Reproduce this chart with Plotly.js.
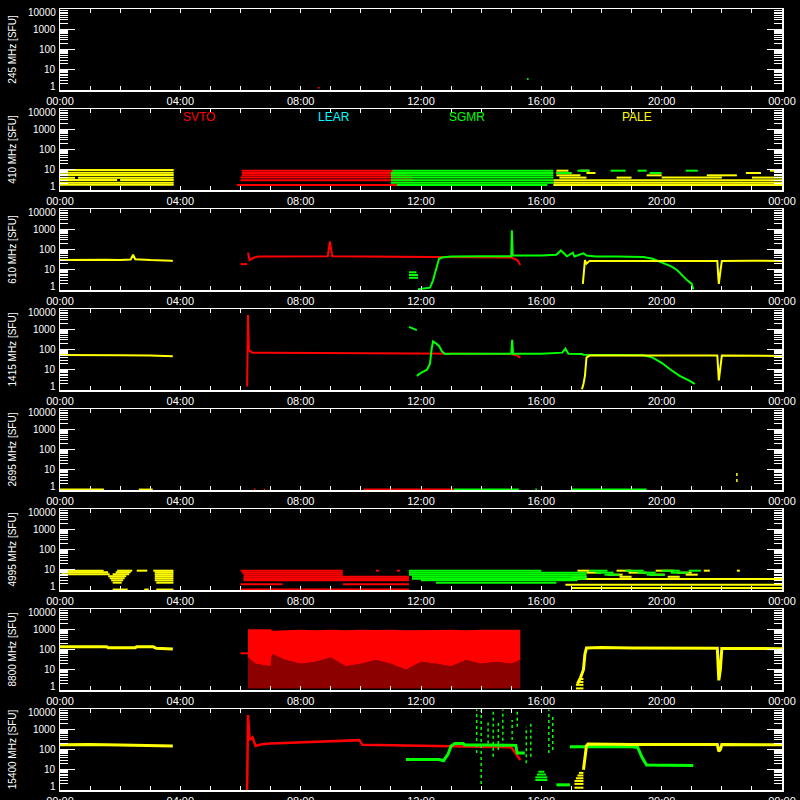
<!DOCTYPE html>
<html><head><meta charset="utf-8">
<script src="https://cdn.plot.ly/plotly-3.0.1.min.js"></script>
<style>html,body{margin:0;padding:0;background:#000}#c{width:800px;height:800px}</style>
</head><body><div id="c"></div>
<script>
// ---------- labels ----------
const hourTicks = [0,4,8,12,16,20,24];
const hourText = ['00:00','04:00','08:00','12:00','16:00','20:00','00:00'];
const fluxTicks = [1,10,100,1000,10000];
const fluxText = ['1','10','100','1000','10000'];
const freqTitles = ['245 MHz [SFU]','410 MHz [SFU]','610 MHz [SFU]','1415 MHz [SFU]','2695 MHz [SFU]','4995 MHz [SFU]','8800 MHz [SFU]','15400 MHz [SFU]'];
const stationNames = ['SVTO','LEAR','SGMR','PALE'];
const stationHours = [4.62, 9.1, 13.53, 19.18];
const RED='#ff0000', GRN='#00ff00', YEL='#ffff00', CYA='#00ffff';

// ---------- 245 MHz ----------
const f245_red_t = [8.6]; const f245_red_v = [1.3];
const f245_grn_t = [15.55]; const f245_grn_v = [3.5];

// ---------- 410 MHz (quantised stripes) ----------
const f410_pale1_lvl = [1.8, 2.3, 3.1, 4.0, 5.5, 7.1, 9.7];
const f410_pale1_seg = [[0,3.78],[0,3.78],[0,1.9,2.0,3.78],[0,0.5,0.6,3.78],[0,3.78],[0,3.78],[0,3.78]];
const f410_svto_lvl = [1.76, 3.0, 4.1, 5.3, 6.9, 9.0];
const f410_svto_seg = [[5.88,11.75],[6.0,11.75],[6.0,11.7],[6.04,11.5],[6.04,11.3],[6.04,11.1]];
const f410_sgmr_lvl = [1.76, 2.3, 3.0, 4.1, 5.3, 6.9, 9.0];
const f410_sgmr_seg = [[11.2,16.2],[11.0,16.4],[11.0,16.4],[11.0,16.4],[11.0,16.4],[11.0,16.4,16.5,17.0,19.6,20.0],[11.05,16.4,17.2,17.6,18.3,18.8,19.2,19.5,20.8,21.2]];
const f410_pale2_lvl = [1.76, 2.3, 3.0, 4.1, 5.3, 6.9, 9.0];
const f410_pale2_seg = [[16.4,24],[16.4,24],[16.4,24],[16.6,17.5,18.5,19.0,20.0,22.0,23.0,24],[16.5,17.3,19.5,20.0,21.5,22.5],[16.5,17.0,17.5,17.8,22.8,23.3],[16.5,16.9,17.3,17.6,23.6,23.8]];

// ---------- 610 MHz ----------
const f610_pale1_t = [0, 0.5, 1.0, 1.5, 2.0, 2.35, 2.43, 2.5, 3.0, 3.5, 3.7, 3.75];
const f610_pale1_v = [30, 31, 30, 31, 30, 32, 55, 33, 30, 30, 28, 27];
const f610_svto_t = [6.0, 6.22, null, 6.25, 6.3, 6.45, 6.6, 7, 8, 8.9, 8.97, 9.05, 10, 11, 12, 12.6, 13.5, 14.5, 15.0, 15.2, 15.3];
const f610_svto_v = [19, 19, null, 70, 30, 40, 45, 45, 46, 46, 250, 46, 45, 44, 44, 45, 44, 42, 40, 30, 17];
const f610_sgmr_t = [11.6, 11.9, null, 11.9, 12.3, 12.4, 12.5, 12.6, 12.7, 13, 14, 15.0, 15.02, 15.05, 15.5, 16, 16.5, 16.65, 16.85, 17.05, 17.1, 17.4, 17.5, 17.8, 18.5, 19, 19.4, 19.7, 20.05, 20.3, 20.5, 20.7, 20.85, 21.0, 21.05];
const f610_sgmr_v = [5.5, 5.5, null, 1.1, 1.3, 3, 12, 35, 40, 45, 46, 46, 900, 50, 50, 50, 55, 90, 46, 70, 45, 65, 50, 45, 45, 45, 43, 35, 22, 15, 10, 5, 3, 2, 1.1];
const f610_sgmr_lvl = [4.0, 7.5];
const f610_sgmr_seg = [[11.6,11.9],[11.6,11.85]];
const f610_pale2_t = [17.38, 17.42, 17.45, 17.5, 17.6, 18, 19, 20, 21, 21.85, 21.88, 21.9, 21.95, 22, 23, 24];
const f610_pale2_v = [2, 10, 30, 20, 27, 27, 27, 27, 27, 27, 5, 2, 8, 27, 28, 27];

// ---------- 1415 MHz ----------
const f1415_pale1_t = [0, 1, 2, 3, 3.5, 3.75];
const f1415_pale1_v = [53, 54, 52, 50, 48, 46];
const f1415_svto_t = [6.22, 6.25, 6.28, 6.4, 7, 8, 9, 10, 11, 12, 13, 14, 15, 15.2, 15.3];
const f1415_svto_v = [1.5, 5000, 90, 70, 70, 68, 66, 66, 65, 64, 62, 62, 60, 50, 40];
const f1415_sgmr_t = [11.6, 11.86, null, 11.86, 12.0, 12.2, 12.3, 12.35, 12.4, 12.5, 12.6, 12.7, 12.8, 13, 14, 15, 15.03, 15.06, 15.5, 16, 16.7, 16.8, 16.9, 17.0, 17.35, 17.4, 17.6, 18, 19, 19.4, 19.7, 20, 20.3, 20.6, 20.9, 21.1];
const f1415_sgmr_v = [1300, 900, null, 5, 7, 10, 20, 100, 250, 200, 150, 80, 60, 62, 62, 62, 300, 62, 62, 62, 70, 110, 62, 62, 60, 55, 55, 55, 55, 52, 40, 22, 10, 5, 3, 2];
const f1415_pale2_t = [17.35, 17.4, 17.45, 17.5, 17.6, 18, 20, 21.85, 21.9, 21.95, 22, 24];
const f1415_pale2_v = [1.1, 2, 5, 40, 50, 50, 50, 50, 3, 10, 50, 48];

// ---------- 2695 MHz ----------
const f2695_lvl = [1.05];
const f2695_pale_seg = [[0,1.46,2.62,3.08]];
const f2695_svto_seg = [[6.45,6.5,6.77,6.82,10.09,13.09]];
const f2695_sgmr_seg = [[13.09,15.25,15.8,15.85,17.0,19.5]];
const f2695_spk_t = [22.5]; const f2695_spk_lo = [2.5]; const f2695_spk_hi = [9.7];

// ---------- 4995 MHz (quantised stripes) ----------
const f4995_pale1_lvl = [1.05, 2.3, 3.0, 3.8, 4.8, 6.0, 7.5, 9.0];
const f4995_pale1_seg = [[1.75,2.25,2.8,2.95,3.2,3.77],[1.75,2.05,3.2,3.77],[1.7,2.1,3.15,3.77],[1.65,2.15,3.15,3.77],[1.6,2.2,3.15,3.77],[0.05,1.65,1.75,2.3,3.15,3.77],[0,1.6,1.85,2.35,3.15,3.77],[0,1.45,1.9,2.4,2.55,2.9,3.1,3.77]];
const f4995_svto_lvl = [1.05, 1.9, 3.0, 3.6, 4.5, 5.7, 7.2, 9.0];
const f4995_svto_seg = [[6.0,11.6],[6.0,7.4,9.4,11.6],[6.1,11.6],[6.1,11.6],[6.1,11.6],[6.1,9.4],[6.05,9.4],[6.0,9.4,10.5,10.6,11.2,11.3]];
const f4995_sgmr_lvl = [2.3, 3.0, 3.6, 4.5, 5.7, 7.2, 9.0];
const f4995_sgmr_seg = [[12.5,16.5],[12.0,17.2],[11.7,17.5],[11.7,17.5],[11.6,17.5,18.1,18.6,19.5,20.1],[11.6,17.5,17.8,18.4,19.2,19.8,20.3,20.9],[11.6,16.0,17.6,18.2,18.8,19.4,20.0,20.6,20.9,21.3]];
const f4995_pale2_lvl = [1.25, 1.8, 3.5, 4.5, 5.7, 7.2, 9.0];
const f4995_pale2_seg = [[17.0,24],[16.8,24],[16.5,24],[17.0,17.5,18.6,19.0,20.2,20.6],[18.2,18.7,19.6,20.1,20.8,21.2],[17.5,18.0,18.9,19.5,20.5,21.0],[17.2,17.6,18.5,19.0,19.8,20.4,21.4,21.6,22.5,22.6]];

// ---------- 8800 MHz ----------
const f8800_pale1_t = [0, 1.55, 1.6, 2.5, 2.55, 3.1, 3.2, 3.75];
const f8800_pale1_v = [138, 136, 122, 122, 138, 135, 115, 105];
const f8800_svto_pre_t = [6.0, 6.25];
const f8800_svto_pre_v = [65, 65];
const f8800_svto_t  = [6.25, 6.5, 7, 7.05, 7.5, 8, 8.5, 9, 9.5, 10, 10.5, 11, 11.5, 12, 12.5, 13, 13.5, 14, 14.5, 15, 15.3];
const f8800_svto_hi = [1000, 1000, 1000, 850, 900, 950, 900, 950, 900, 950, 920, 950, 900, 950, 930, 950, 900, 950, 930, 950, 950];
const f8800_svto_lo = [40, 20, 15, 60, 30, 20, 25, 40, 15, 20, 30, 20, 10, 25, 20, 15, 30, 20, 25, 20, 30];
const f8800_svto_floor = [1.2, 1.2, 1.2, 1.2, 1.2, 1.2, 1.2, 1.2, 1.2, 1.2, 1.2, 1.2, 1.2, 1.2, 1.2, 1.2, 1.2, 1.2, 1.2, 1.2, 1.2];
const f8800_pale2_t = [17.2, 17.3, 17.4, 17.45, 17.5, 18, 19, 20, 21, 21.85, 21.9, 21.95, 22, 23, 24];
const f8800_pale2_v = [2, 4, 10, 60, 120, 125, 120, 118, 115, 115, 3, 10, 112, 110, 110];
const f8800_pale2_lvl = [1.2, 1.8, 2.5, 3.5];
const f8800_pale2_seg = [[17.15,17.4],[17.15,17.4],[17.2,17.4],[17.25,17.4]];

// ---------- 15400 MHz ----------
const f15400_pale1_t = [0, 1, 2, 3, 3.5, 3.75];
const f15400_pale1_v = [170, 175, 165, 160, 155, 150];
const f15400_svto_t = [6.22, 6.25, 6.3, 6.4, 6.5, 6.7, 7, 8, 9, 9.8, 9.95, 10.05, 10.6, 11.7, 12, 13, 14, 15, 15.1, 15.2, 15.3];
const f15400_svto_v = [1, 5000, 300, 400, 150, 180, 200, 230, 260, 290, 290, 170, 166, 160, 150, 145, 140, 130, 80, 50, 30];
const f15400_sgmr_t = [11.5, 12.6, 12.75, 12.9, 13.0, 13.13, 13.4, 13.45, 14, 15, 15.15, 15.2, 15.45, null, 16.5, 16.95, null, 16.95, 17.5, 18, 19, 19.2, 19.35, 19.5, 20, 20.5, 21.05];
const f15400_sgmr_v = [32, 32, 28, 60, 150, 200, 200, 165, 165, 160, 160, 67, 67, null, 1.8, 1.8, null, 137, 140, 140, 137, 130, 40, 17, 17, 16, 16];
const f15400_spk_t  = [13.85, 14.0, 14.23, 14.4, 14.57, 14.72, 15.03, 15.2, 15.5, 15.65, 16.25, 16.38];
const f15400_spk_lo = [67, 2, 200, 44, 94, 137, 295, 1340, 21, 44, 67, 94];
const f15400_spk_hi = [9500, 9500, 2860, 9500, 2860, 9500, 2860, 9500, 1340, 2000, 9500, 5000];
const f15400_sgmr_lvl = [3.1, 4.2, 5.8, 8.0];
const f15400_sgmr_seg = [[15.8,16.2],[15.8,16.2],[15.85,16.15],[15.9,16.1]];
const f15400_pale2_t = [17.4, 17.45, 17.5, 17.55, 18, 19, 20, 21, 21.85, 21.9, 21.95, 22, 23, 24];
const f15400_pale2_v = [10, 40, 150, 185, 180, 175, 175, 175, 175, 80, 100, 175, 170, 170];
const f15400_pale2_lvl = [1.3, 2.0, 2.8, 3.8, 5.2, 7.0];
const f15400_pale2_seg = [[17.1,17.4],[17.1,17.4],[17.1,17.4],[17.15,17.4],[17.2,17.4],[17.25,17.4]];

// ---------- build ----------
const traces = [];
function ax(i){ return i ? String(i+1) : ''; }
function line(i, t, v, color, w){
  traces.push({x:t, y:v, xaxis:'x'+ax(i), yaxis:'y'+ax(i), mode:'lines', connectgaps:false,
    line:{color:color, width:w||2}, hoverinfo:'skip'});
}
function stripes(i, lvls, segs, color){
  const x=[], y=[];
  lvls.forEach((l,k)=>{ const s=segs[k]; for(let j=0;j<s.length;j+=2){ x.push(s[j], s[j+1], null); y.push(l, l, null);} });
  line(i, x, y, color, 2);
}
function spikes(i, t, lo, hi, color){
  const x=[], y=[];
  t.forEach((tt,k)=>{ x.push(tt, tt, null); y.push(lo[k], hi[k], null); });
  traces.push({x:x, y:y, xaxis:'x'+ax(i), yaxis:'y'+ax(i), mode:'lines', connectgaps:false,
    line:{color:color, width:1.5, dash:'dot'}, hoverinfo:'skip'});
}
function dots(i, t, v, color){
  traces.push({x:t, y:v, xaxis:'x'+ax(i), yaxis:'y'+ax(i), mode:'markers', marker:{color:color, size:2}, hoverinfo:'skip'});
}
function band(i, t, lo, hi, color){
  traces.push({x:t, y:lo, xaxis:'x'+ax(i), yaxis:'y'+ax(i), mode:'lines', line:{width:0, color:color}, hoverinfo:'skip'});
  traces.push({x:t, y:hi, xaxis:'x'+ax(i), yaxis:'y'+ax(i), mode:'lines', line:{width:0, color:color}, fill:'tonexty', fillcolor:color, hoverinfo:'skip'});
}

// 245
dots(0, f245_red_t, f245_red_v, RED); dots(0, f245_grn_t, f245_grn_v, GRN);
// 410
stripes(1, f410_pale1_lvl, f410_pale1_seg, YEL);
stripes(1, f410_svto_lvl, f410_svto_seg, RED);
stripes(1, f410_pale2_lvl, f410_pale2_seg, YEL);
stripes(1, f410_sgmr_lvl, f410_sgmr_seg, GRN);
// 610
line(2, f610_pale1_t, f610_pale1_v, YEL);
line(2, f610_svto_t, f610_svto_v, RED);
line(2, f610_sgmr_t, f610_sgmr_v, GRN);
stripes(2, f610_sgmr_lvl, f610_sgmr_seg, GRN);
line(2, f610_pale2_t, f610_pale2_v, YEL);
// 1415
line(3, f1415_pale1_t, f1415_pale1_v, YEL);
line(3, f1415_svto_t, f1415_svto_v, RED);
line(3, f1415_sgmr_t, f1415_sgmr_v, GRN);
line(3, f1415_pale2_t, f1415_pale2_v, YEL);
// 2695
stripes(4, f2695_lvl, f2695_pale_seg, YEL);
stripes(4, f2695_lvl, f2695_svto_seg, RED);
stripes(4, f2695_lvl, f2695_sgmr_seg, GRN);
spikes(4, f2695_spk_t, f2695_spk_lo, f2695_spk_hi, YEL);
// 4995
stripes(5, f4995_pale1_lvl, f4995_pale1_seg, YEL);
stripes(5, f4995_svto_lvl, f4995_svto_seg, RED);
stripes(5, f4995_pale2_lvl, f4995_pale2_seg, YEL);
stripes(5, f4995_sgmr_lvl, f4995_sgmr_seg, GRN);
// 8800
line(6, f8800_pale1_t, f8800_pale1_v, YEL, 3);
line(6, f8800_svto_pre_t, f8800_svto_pre_v, RED);
band(6, f8800_svto_t, f8800_svto_floor, f8800_svto_lo, 'rgba(255,0,0,0.55)');
band(6, f8800_svto_t, f8800_svto_lo, f8800_svto_hi, RED);
line(6, f8800_pale2_t, f8800_pale2_v, YEL, 3);
stripes(6, f8800_pale2_lvl, f8800_pale2_seg, YEL);
// 15400
line(7, f15400_pale1_t, f15400_pale1_v, YEL, 3);
line(7, f15400_svto_t, f15400_svto_v, RED, 2.5);
line(7, f15400_sgmr_t, f15400_sgmr_v, GRN, 3);
spikes(7, f15400_spk_t, f15400_spk_lo, f15400_spk_hi, GRN);
stripes(7, f15400_sgmr_lvl, f15400_sgmr_seg, GRN);
line(7, f15400_pale2_t, f15400_pale2_v, YEL, 3);
stripes(7, f15400_pale2_lvl, f15400_pale2_seg, YEL);

// ---------- layout ----------
const minorY = [];
[1,10,100,1000].forEach(d=>{ for(let k=2;k<=9;k++) minorY.push(k*d); });
const FONT = 'Liberation Sans, Arial, sans-serif';
const layout = {
  width:800, height:800, paper_bgcolor:'#000', plot_bgcolor:'#000', showlegend:false,
  margin:{l:60, r:18, t:9, b:10}, annotations:[]
};
for (let i=0;i<8;i++){
  const a = ax(i);
  layout['xaxis'+a] = {
    domain:[0,1], anchor:'y'+a, range:[0,24], tickmode:'array', tickvals:hourTicks, ticktext:hourText,
    ticks:'inside', ticklen:4, tickwidth:1, tickcolor:'#fff', showline:true, linecolor:'#fff', linewidth:1.5,
    mirror:'ticks', showgrid:false, zeroline:false, tickfont:{family:FONT, size:11, color:'#fff'},
    minor:{tickmode:'linear', tick0:0, dtick:1, ticks:'inside', ticklen:4, tickcolor:'#fff', showgrid:false}
  };
  layout['yaxis'+a] = {
    domain:[(700-100*i)/781, (781-100*i)/781], anchor:'x'+a, type:'log', range:[0,4],
    tickmode:'array', tickvals:fluxTicks, showticklabels:false,
    ticks:'inside', ticklen:15, tickwidth:1, tickcolor:'#fff', showline:true, linecolor:'#fff', linewidth:1.5,
    mirror:'ticks', showgrid:false, zeroline:false,
    minor:{tickmode:'array', tickvals:minorY, ticks:'inside', ticklen:8, tickcolor:'#fff', showgrid:false},
    title:{text:freqTitles[i], font:{family:FONT, size:10, color:'#fff'}, standoff:40}
  };
  // tick labels of the flux axis (end labels pulled inside the panel as in the original)
  fluxTicks.forEach((v,k)=>{
    let ly = Math.log10(v);
    if (k===0) ly += 0.15;
    if (k===fluxTicks.length-1) ly -= 0.15;
    layout.annotations.push({text:fluxText[k], xref:'paper', yref:'y'+a, x:-0.003, y:ly,
      xanchor:'right', yanchor:'middle', showarrow:false, font:{family:FONT, size:10, color:'#fff'}});
  });
}
stationNames.forEach((n,k)=>{
  layout.annotations.push({text:n, x:stationHours[k], y:3.6, xref:'x2', yref:'y2', showarrow:false,
    font:{family:FONT, size:12, color:[RED,CYA,GRN,YEL][k]}});
});
Plotly.newPlot('c', traces, layout, {staticPlot:true, displayModeBar:false});
</script></body></html>
